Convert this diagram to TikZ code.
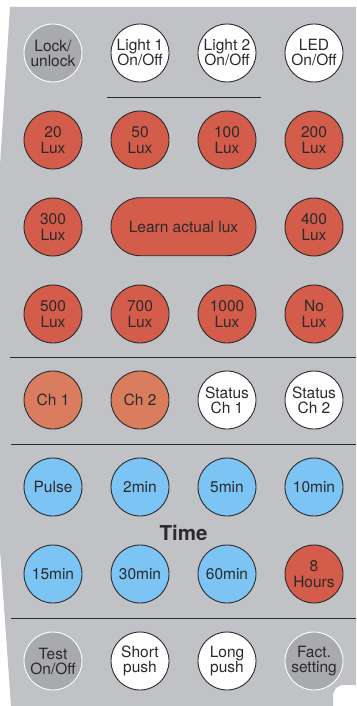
\documentclass[tikz,border=0pt]{standalone}
\usepackage{fontspec}
\setmainfont{TeX Gyre Heros}
\definecolor{panel}{HTML}{C1C2C5}
\definecolor{luxred}{HTML}{D35C4A}
\definecolor{chorange}{HTML}{DA7D5E}
\definecolor{timeblue}{HTML}{7CC4F4}
\definecolor{darkgrey}{HTML}{A9AAAC}
\definecolor{ink}{HTML}{2B2A2C}
\tikzset{
  btn/.style={circle,draw=ink,line width=0.9pt,minimum size=58pt,inner sep=0pt,align=center,
    font=\fontsize{15.5}{15}\selectfont,text=ink},
  whitebtn/.style={btn,fill=white},
  greybtn/.style={btn,fill=darkgrey,draw=white},
  redbtn/.style={btn,fill=luxred,font=\fontsize{15.5}{16}\selectfont},
  orangebtn/.style={btn,fill=chorange},
  bluebtn/.style={btn,fill=timeblue},
  rule/.style={draw=ink,line width=0.9pt}
}
\begin{document}
\begin{tikzpicture}[x=1pt,y=-1pt]
\useasboundingbox (0,0) rectangle (356,706);
\fill[white] (0,0) rectangle (356,706);
\fill[panel] (10,7) -- (356,7) -- (356,685) -- (345,685)
  .. controls (337,685) and (333,689) .. (333,697) -- (333,706) -- (11,706)
  -- (0,550) -- (0,165) -- cycle;
% row 1
\node[greybtn] (lock) at (53,53) {Lock/\\unlock};
\node[whitebtn] (l1) at (140,53) {Light 1\\On/Off};
\node[whitebtn] (l2) at (227,53) {Light 2\\On/Off};
\node[whitebtn] (led) at (314,53) {LED\\On/Off};
\coordinate (r1a) at (107,97);
\coordinate (r1b) at (261,97);
\draw[rule] (r1a) -- (r1b);
% row 2
\node[redbtn] (a) at (53,140) {20\\Lux};
\node[redbtn] (b) at (140,140) {50\\Lux};
\node[redbtn] (c) at (227,140) {100\\Lux};
\node[redbtn] (d) at (314,140) {200\\Lux};
% row 3
\node[redbtn] (e) at (53,227) {300\\Lux};
\node[draw=ink,line width=0.9pt,fill=luxred,rounded corners=28.9pt,minimum width=145pt,minimum height=58pt,inner sep=0pt,
  font=\fontsize{15.5}{15}\selectfont,text=ink] (learn) at (183.5,226.7) {Learn actual lux};
\node[redbtn] (f) at (314,227) {400\\Lux};
% row 4
\node[redbtn] (g) at (53,314) {500\\Lux};
\node[redbtn] (h) at (140,314) {700\\Lux};
\node[redbtn] (i) at (227,314) {1000\\Lux};
\node[redbtn] (j) at (314,314) {No\\Lux};
\coordinate (r2a) at (10,357);
\coordinate (r2b) at (356,357);
\draw[rule] (r2a) -- (r2b);
% row 5
\node[orangebtn] (ch1) at (53,400) {Ch 1};
\node[orangebtn] (ch2) at (140,400) {Ch 2};
\node[whitebtn] (s1) at (227,400) {Status\\Ch 1};
\node[whitebtn] (s2) at (314,400) {Status\\Ch 2};
\coordinate (r3a) at (11,444);
\coordinate (r3b) at (356,444);
\draw[rule] (r3a) -- (r3b);
% row 6
\node[bluebtn] (p) at (53,487) {Pulse};
\node[bluebtn] (m2) at (140,487) {2min};
\node[bluebtn] (m5) at (227,487) {5min};
\node[bluebtn] (m10) at (314,487) {10min};
\node[font=\bfseries\fontsize{20.5}{20}\selectfont,text=ink] (time) at (183.5,533) {Time};
% row 7
\node[bluebtn] (m15) at (53,574) {15min};
\node[bluebtn] (m30) at (140,574) {30min};
\node[bluebtn] (m60) at (227,574) {60min};
\node[redbtn] (h8) at (314,574) {8\\Hours};
\coordinate (r4a) at (11,618);
\coordinate (r4b) at (356,618);
\draw[rule] (r4a) -- (r4b);
% row 8
\node[greybtn] (test) at (53,661) {Test\\On/Off};
\node[whitebtn] (sp) at (140,661) {Short\\push};
\node[whitebtn] (lp) at (227,661) {Long\\push};
\node[greybtn] (fact) at (314,661) {Fact.\\setting};
\end{tikzpicture}
\end{document}
